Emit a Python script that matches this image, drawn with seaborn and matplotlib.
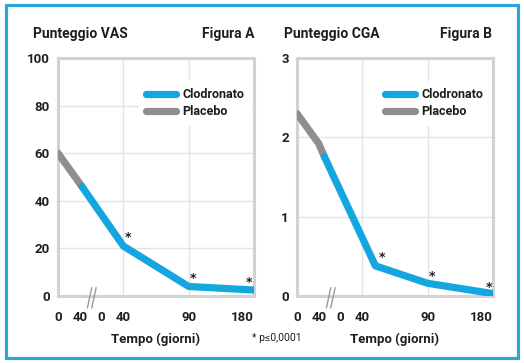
import numpy as np
import matplotlib.pyplot as plt
import seaborn as sns
from matplotlib.patches import Rectangle
import matplotlib.transforms as mtransforms

sns.set_style('white')
plt.rcParams['font.family'] = ['Roboto', 'DejaVu Sans']

# x axis: 0-40 placebo, break, 0-40-90-180 clodronato (positions on the axis)
tick_pos = [0, 1, 2, 3, 6, 9]
tick_labels = ['0', '40', '0', '40', '90', '180']
grid_x = [3, 6]

# Figura A - Punteggio VAS
vas_placebo_x = [0, 1.1]
vas_placebo_y = [60, 46]
vas_clod_x = [1.1, 3, 6, 9]
vas_clod_y = [46, 21, 4, 2.5]
vas_star_x = [3.2, 6.2, 8.75]
vas_star_y = [24.5, 7.4, 5.7]
vas_yticks = [0, 20, 40, 60, 80, 100]

# Figura B - Punteggio CGA
cga_placebo_x = [0, 1, 1.25]
cga_placebo_y = [2.3, 1.92, 1.76]
cga_clod_x = [1.25, 3.6, 6, 9]
cga_clod_y = [1.76, 0.38, 0.16, 0.03]
cga_star_x = [3.9, 6.2, 8.8]
cga_star_y = [0.49, 0.25, 0.11]
cga_yticks = [0, 1, 2, 3]

blue = '#13a6df'
grey = '#8e8e8e'
spine_c = '#d2d2d2'
grid_c = '#e3e3e3'
txt = '#1e1e1e'

W, H = 524, 363
fig = plt.figure(figsize=(W / 100, H / 100), dpi=100)
fig.patch.set_facecolor('white')
fig.patches.append(Rectangle((6 / W, 5 / H), 512 / W, 353 / H, transform=fig.transFigure,
                             fill=False, edgecolor='#2aa7d8', linewidth=2.3))


def panel(left, px, py, cx, cy, sx, sy, yticks, title, fig_label, title_x, label_x):
    ax = fig.add_axes([left / W, (H - 296) / H, 196 / W, 238 / H])
    ax.set_facecolor('white')
    for g in grid_x:
        ax.axvline(g, color=grid_c, lw=1, zorder=0)
    for yv in yticks[1:-1]:
        ax.axhline(yv, color=grid_c, lw=1, zorder=0)
    sns.lineplot(x=px, y=py, ax=ax, color=grey, linewidth=5.2, solid_capstyle='round',
                 label='Placebo', zorder=3)
    sns.lineplot(x=cx, y=cy, ax=ax, color=blue, linewidth=5.2, solid_capstyle='round',
                 label='Clodronato', zorder=4)
    for x, y in zip(sx, sy):
        ax.text(x, y, '*', ha='center', va='center', fontsize=9, fontweight='bold',
                color=txt, family='DejaVu Sans')
    ax.set_xlim(0, 9)
    ax.set_ylim(yticks[0], yticks[-1])
    ax.set_xticks(tick_pos)
    ax.set_xticklabels(tick_labels, fontsize=9.5, fontweight='bold', color=txt)
    ax.get_xticklabels()[-1].set_ha('right')
    ax.set_yticks(yticks)
    ax.set_yticklabels([str(v) for v in yticks], fontsize=9.5, fontweight='bold', color=txt)
    ax.tick_params(axis='x', length=0, pad=11)
    ax.tick_params(axis='y', length=0, pad=6)
    for s in ax.spines.values():
        s.set_color(spine_c)
        s.set_linewidth(2.2)
    ax.set_xlabel('Tempo (giorni)', fontsize=9.5, fontweight='bold', color=txt, labelpad=6)
    ax.set_ylabel('')
    # axis break marks
    tr = mtransforms.blended_transform_factory(ax.transData, ax.transAxes)
    for off in [0, 0.2]:
        ax.plot([1.35 + off, 1.55 + off], [-0.05, 0.035], color='#9a9a9a', lw=1,
                transform=tr, clip_on=False, zorder=5)
    h, l = ax.get_legend_handles_labels()
    leg = ax.legend(h[::-1], l[::-1], loc='upper left', bbox_to_anchor=(0.38, 0.93),
                    frameon=True, facecolor='white', edgecolor='none', framealpha=1,
                    fontsize=9, handlelength=2.4, handletextpad=0.5, labelspacing=0.3,
                    borderpad=0.6)
    for t in leg.get_texts():
        t.set_fontweight('bold')
        t.set_color(txt)
    fig.text(title_x / W, 1 - 34 / H, title, fontsize=10, fontweight='bold', color=txt,
             ha='left', va='center')
    fig.text(label_x / W, 1 - 34 / H, fig_label, fontsize=10, fontweight='bold', color=txt,
             ha='right', va='center')
    return ax


panel(58, vas_placebo_x, vas_placebo_y, vas_clod_x, vas_clod_y, vas_star_x, vas_star_y,
      vas_yticks, 'Punteggio VAS', 'Figura A', 33, 254)
panel(297, cga_placebo_x, cga_placebo_y, cga_clod_x, cga_clod_y, cga_star_x, cga_star_y,
      cga_yticks, 'Punteggio CGA', 'Figura B', 284, 492)

fig.text(252 / W, 1 - 338 / H, '* p≤0,0001', fontsize=7.5, color=txt, ha='left', va='center')

fig.savefig('out.png', dpi=100)
